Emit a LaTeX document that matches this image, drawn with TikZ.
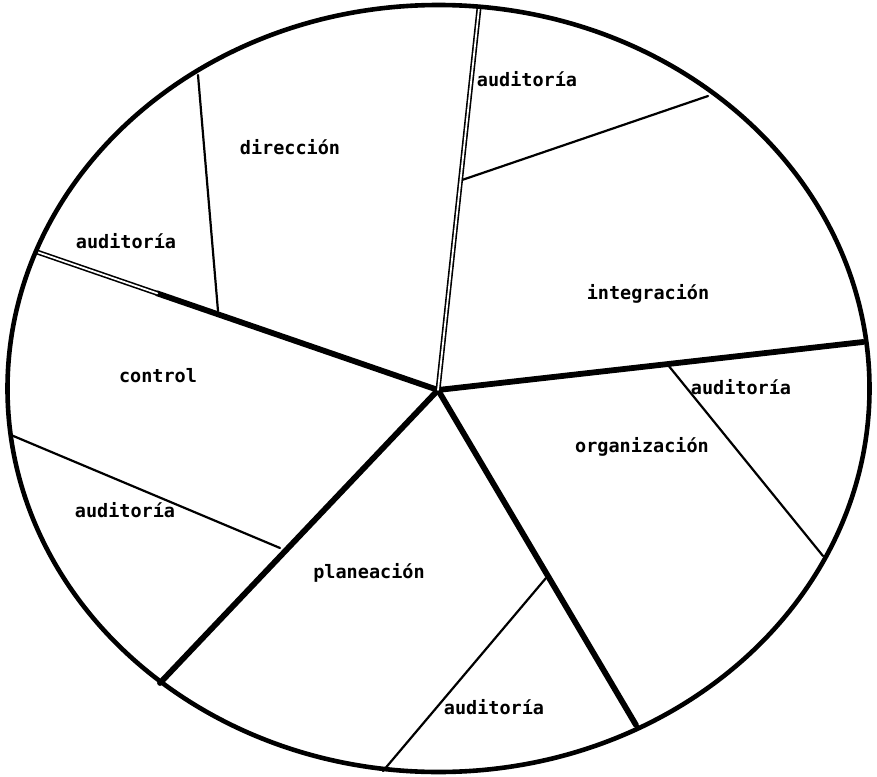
\documentclass[tikz,border=0pt]{standalone}
\usepackage{fontspec}
\setmonofont{DejaVu Sans Mono}
\usetikzlibrary{calc}
\definecolor{inkblack}{RGB}{0, 0, 0}

\begin{document}
\begin{tikzpicture}[x=1pt, y=-1pt, line cap=round, line join=round,
    rim/.style={inkblack, line width=4.6pt},
    spoke/.style={inkblack, line width=5.8pt},
    split/.style={inkblack, line width=2.2pt},
    twin/.style={inkblack, line width=1.6pt, double=white, double distance=1.8pt},
    lbl/.style={font=\ttfamily\bfseries\fontsize{18.5}{20}\selectfont, inner sep=0pt}]
    \useasboundingbox (0,0) rectangle (877,776);
    \coordinate (c) at (438,390);
    % ends of the spokes on the rim
    \coordinate (rgt) at (863,342);
    \coordinate (brt) at (636,725);
    \coordinate (blf) at (160,683);
    \coordinate (lft) at (37,252);
    \coordinate (top) at (479,8);
    \coordinate (lmid) at ($(c)!0.7!(lft)$);
    % auditoria splits
    \coordinate (s1a) at (462,180); \coordinate (s1b) at (708,96);
    \coordinate (s2a) at (198,75);  \coordinate (s2b) at (218,311);
    \coordinate (s3a) at (668,365); \coordinate (s3b) at (823,556);
    \coordinate (s4a) at (11,435);  \coordinate (s4b) at (280,548);
    \coordinate (s5a) at (546,578); \coordinate (s5b) at (383,771);

    \draw[split] (s1a) -- (s1b);
    \draw[split] (s2a) -- (s2b);
    \draw[split] (s3a) -- (s3b);
    \draw[split] (s4a) -- (s4b);
    \draw[split] (s5a) -- (s5b);

    \draw[spoke] (c) -- (rgt);
    \draw[spoke] (c) -- (brt);
    \draw[spoke] (c) -- (blf);
    \draw[spoke] (c) -- (lmid);
    \draw[twin] (lmid) -- (lft);
    \draw[twin] (c) -- (top);

    \draw[rim] (438.5,388.5) ellipse (431 and 383.5);

    \node[lbl] (dir) at (290,147) {dirección};
    \node[lbl] (aud1) at (527,79) {auditoría};
    \node[lbl] (int) at (648,294) {integración};
    \node[lbl] (aud2) at (126,241) {auditoría};
    \node[lbl] (con) at (158,376) {control};
    \node[lbl] (aud3) at (741,387) {auditoría};
    \node[lbl] (org) at (642,447) {organización};
    \node[lbl] (aud4) at (125,510) {auditoría};
    \node[lbl] (pla) at (369,573) {planeación};
    \node[lbl] (aud5) at (494,707) {auditoría};
  \end{tikzpicture}
\end{document}
